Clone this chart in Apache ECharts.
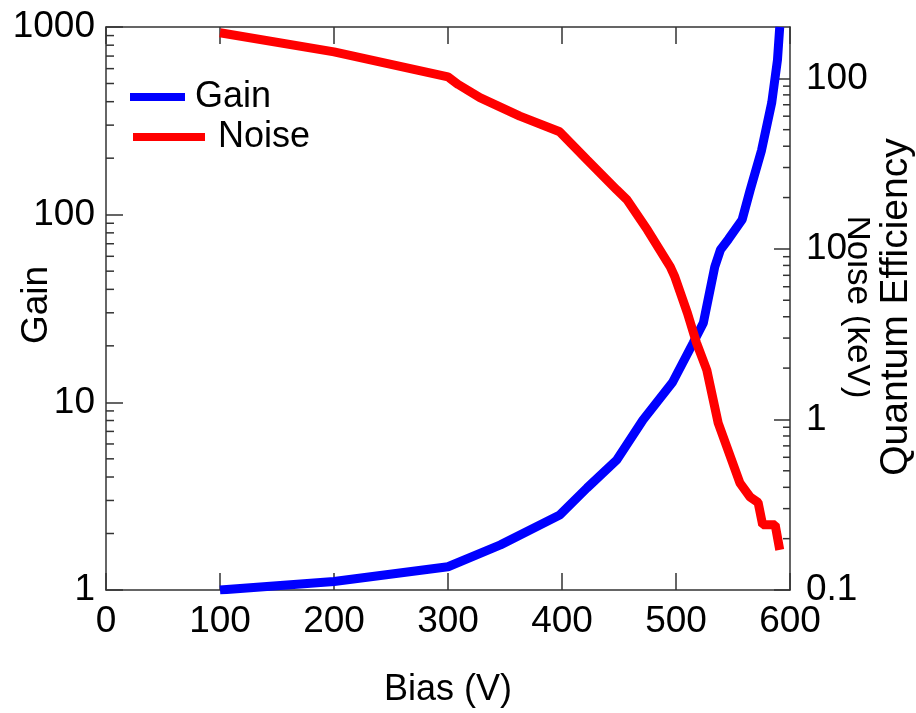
<!DOCTYPE html>
<html>
<head>
<meta charset="utf-8">
<script src="https://cdn.jsdelivr.net/npm/echarts@6/dist/echarts.min.js"></script>
<style>html,body{margin:0;padding:0;background:#fff;}#c{width:916px;height:713px;}</style>
</head>
<body>
<div id="c"></div>
<script>
// Data
const gainBias  = [100, 200, 300, 346, 398, 422, 448, 471, 497, 515, 524, 534, 539, 546, 558, 565, 575, 584, 589, 591];
const gainValue = [1.0, 1.11, 1.33, 1.74, 2.51, 3.5, 4.93, 8.06, 12.8, 20.7, 26.5, 52.7, 65, 74, 94, 135, 220, 396, 667, 1000];
const noiseBias  = [100, 200, 300, 309, 328, 363, 398, 422, 448, 457, 475, 495, 499, 510, 518, 527, 537, 556, 565, 572, 576, 587, 591];
const noiseValue = [185, 143, 102, 92, 77, 60, 48.6, 33.3, 22.2, 19.4, 12.9, 7.84, 6.85, 4.21, 2.81, 1.95, 0.953, 0.425, 0.351, 0.326, 0.241, 0.241, 0.172];
// Axis ticks
const leftMinorTicks  = [2,3,4,5,6,7,8,9,20,30,40,50,60,70,80,90,200,300,400,500,600,700,800,900];
const rightMinorTicks = [0.2,0.3,0.4,0.5,0.6,0.7,0.8,0.9,2,3,4,5,6,7,8,9,20,30,40,50,60,70,80,90];
const leftLabels  = [1, 10, 100, 1000];
const rightLabels = [0.1, 1, 10, 100];

const FONT = '"Liberation Sans", Arial, sans-serif';
const AX = '#333';
const TICKFS = 37;
const chart = echarts.init(document.getElementById('c'));

function isDecade(v, list){ return list.some(l => Math.abs(l - v) / l < 1e-6); }
function minorTickSeries(name, values, xVal, yIdx, dir, len){
  return {
    type: 'custom', name: name, xAxisIndex: 0, yAxisIndex: yIdx, silent: true, clip: false, z: 5,
    data: values.map(v => [xVal, v]),
    renderItem: function(params, api){
      const p = api.coord([api.value(0), api.value(1)]);
      return {type:'line', shape:{x1:p[0], y1:p[1], x2:p[0] + dir*len, y2:p[1]}, style:{stroke:AX, lineWidth:1.5}};
    }
  };
}
const axLine = {show: true, onZero: false, lineStyle: {color: AX, width: 1.5}};

const option = {
  backgroundColor: '#fff',
  animation: false,
  textStyle: {fontFamily: FONT},
  grid: {left: 106, right: 126, top: 27, bottom: 123, containLabel: false, outerBoundsMode: 'none'},
  legend: [
    {data: ['Gain'], left: 130, top: 79, padding: 0, itemWidth: 55, itemHeight: 8, icon: 'rect',
     textStyle: {fontSize: 36, fontFamily: FONT, color: '#000', lineHeight: 36, padding: [0,0,0,5]}},
    {data: ['Noise'], left: 133, top: 119, padding: 0, itemWidth: 72, itemHeight: 8, icon: 'rect',
     textStyle: {fontSize: 36, fontFamily: FONT, color: '#000', lineHeight: 36, padding: [0,0,0,8]}}
  ],
  xAxis: [
    {type: 'value', min: 0, max: 600, interval: 100, position: 'bottom',
     name: 'Bias (V)', nameLocation: 'middle', nameGap: 82,
     nameTextStyle: {fontSize: 36, fontFamily: FONT, color: '#000'},
     axisLine: axLine,
     axisTick: {show: true, inside: true, length: 17, lineStyle: {color: AX, width: 1.5}},
     axisLabel: {fontSize: TICKFS, fontFamily: FONT, color: '#000', margin: 13},
     splitLine: {show: false}},
    {type: 'value', min: 0, max: 600, interval: 100, position: 'top',
     axisLine: axLine,
     axisTick: {show: true, inside: true, length: 17, lineStyle: {color: AX, width: 1.5}},
     axisLabel: {show: false}, splitLine: {show: false}}
  ],
  yAxis: [
    {type: 'log', logBase: 10, min: 1, max: 1000, position: 'left',
     axisLine: axLine,
     axisTick: {show: true, inside: true, length: 17, lineStyle: {color: AX, width: 1.5}},
     axisLabel: {fontSize: TICKFS, fontFamily: FONT, color: '#000', margin: 11,
       formatter: v => isDecade(v, leftLabels) ? String(Math.round(v)) : ''},
     splitLine: {show: false}},
    {type: 'log', logBase: 10, min: 0.1, max: 200, position: 'right',
     axisLine: axLine,
     axisTick: {show: true, inside: true, length: 16, lineStyle: {color: AX, width: 1.5}},
     axisLabel: {fontSize: TICKFS, fontFamily: FONT, color: '#000', margin: 16, showMaxLabel: false,
       formatter: v => isDecade(v, rightLabels) ? (v < 1 ? '0.1' : String(Math.round(v))) : ''},
     splitLine: {show: false}}
  ],
  graphic: [
    {type: 'text', rotation: Math.PI/2, x: 37, y: 305, z: 1,
     style: {text: 'Gain', font: '37px ' + FONT, fill: '#000', align: 'center', verticalAlign: 'middle'}},
    {type: 'text', rotation: -Math.PI/2, x: 858, y: 307, z: 1,
     style: {text: 'Noise (keV)', font: '35px ' + FONT, fill: '#000', align: 'center', verticalAlign: 'middle'}},
    {type: 'rect', shape: {x: 870, y: 150, width: 46, height: 420}, style: {fill: '#fff'}, z: 2},
    {type: 'text', rotation: Math.PI/2, x: 896, y: 307, z: 3,
     style: {text: 'Quantum Efficiency', font: '39px ' + FONT, fill: '#000', align: 'center', verticalAlign: 'middle'}}
  ],
  series: [
    {name: 'Gain', type: 'line', xAxisIndex: 0, yAxisIndex: 0, showSymbol: false, z: 3,
     lineStyle: {color: '#0000ff', width: 9}, itemStyle: {color: '#0000ff'},
     data: gainBias.map((b, i) => [b, gainValue[i]])},
    {name: 'Noise', type: 'line', xAxisIndex: 0, yAxisIndex: 1, showSymbol: false, z: 4,
     lineStyle: {color: '#ff0000', width: 9}, itemStyle: {color: '#ff0000'},
     data: noiseBias.map((b, i) => [b, noiseValue[i]])},
    minorTickSeries('leftMinor', leftMinorTicks, 0, 0, 1, 8),
    minorTickSeries('rightMinor', rightMinorTicks, 600, 1, -1, 7)
  ]
};
chart.setOption(option);
</script>
</body>
</html>
